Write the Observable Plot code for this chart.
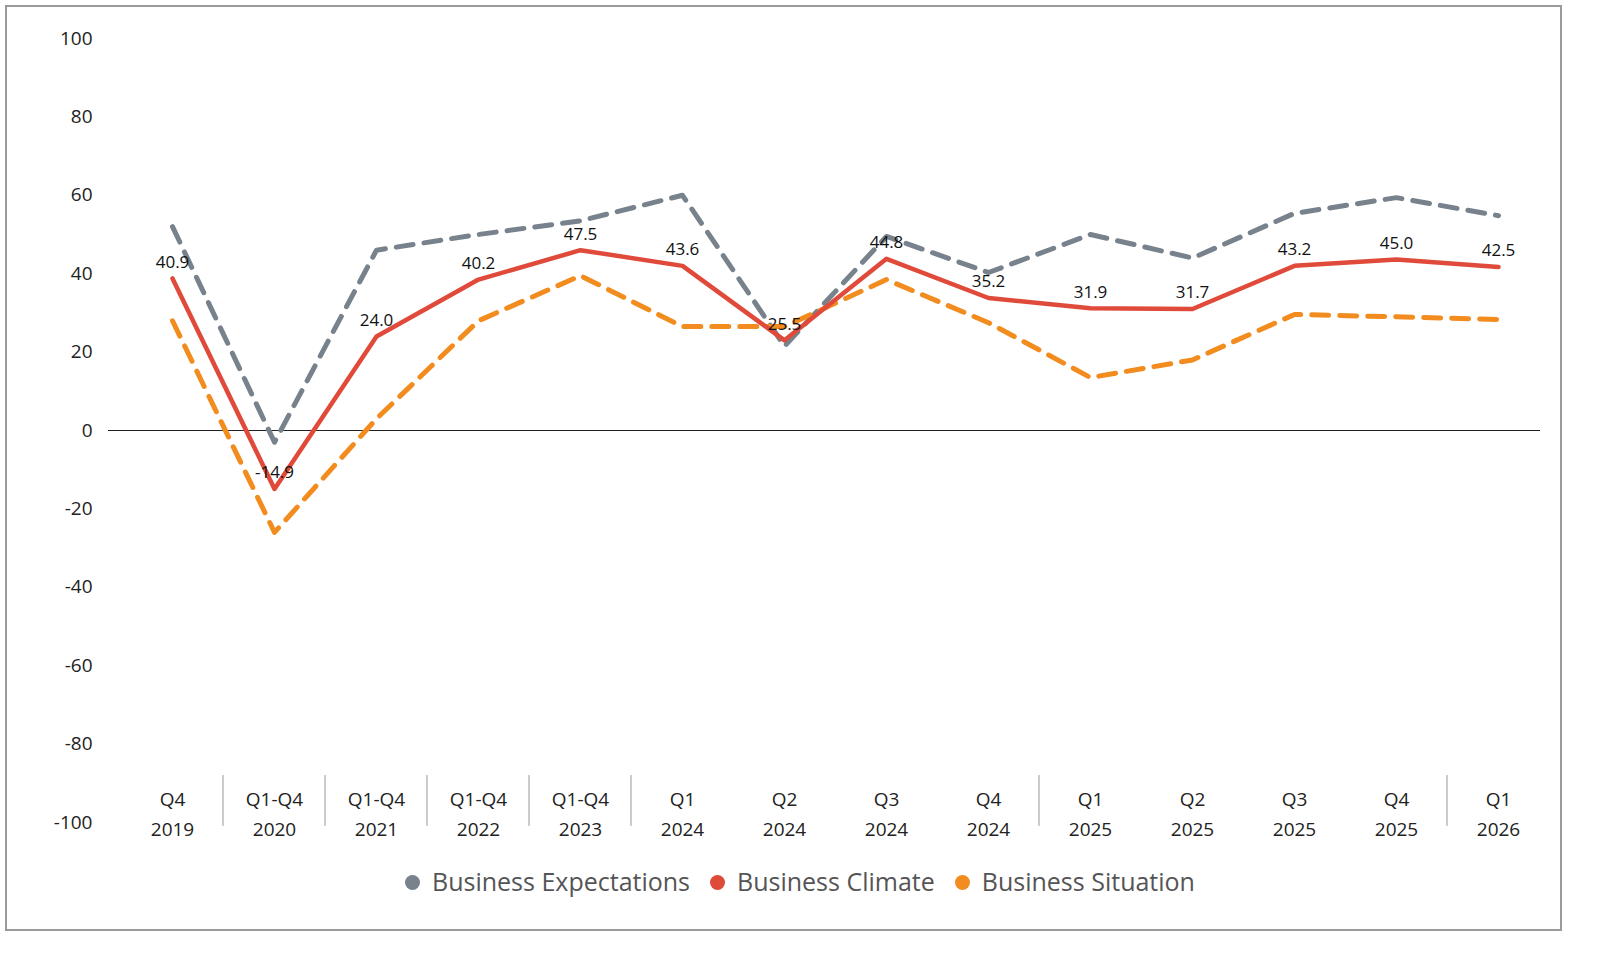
<!DOCTYPE html>
<html><head><meta charset="utf-8">
<script src="https://cdn.jsdelivr.net/npm/d3@7"></script>
<script src="https://cdn.jsdelivr.net/npm/@observablehq/plot@0.6"></script>
<style>
body{margin:0;background:#fff;font-family:"Open Sans",sans-serif;}
#frame{position:absolute;left:5px;top:5px;width:1553px;height:922px;border:2px solid #9a9a9a;}
#chart{position:absolute;left:0;top:0;}
#legend{position:absolute;left:0;top:864px;width:1600px;text-align:center;font-size:25px;color:#555;}
#legend span{margin:0 10px;}
#legend i{display:inline-block;width:15px;height:15px;border-radius:50%;margin-right:12px;vertical-align:middle;position:relative;top:-2px;}
</style></head><body>
<div id="frame"></div><div id="chart"></div>
<div id="legend"></div>
<script>
const periods = ["Q4\n2019","Q1-Q4\n2020","Q1-Q4\n2021","Q1-Q4\n2022","Q1-Q4\n2023","Q1\n2024","Q2\n2024","Q3\n2024","Q4\n2024","Q1\n2025","Q2\n2025","Q3\n2025","Q4\n2025","Q1\n2026"];
const expectations = [52,-3,46,50,53.5,60,21.5,49.5,40.3,50,44,55.4,59.4,54.8];
const climate = [40.9,-14.9,24.0,40.2,47.5,43.6,25.5,44.8,35.2,31.9,31.7,43.2,45.0,42.5];
const climateLine = [38.8,-14.9,24.0,38.5,46,42,23,43.8,33.8,31.2,31,42,43.6,41.7];
const situation = [28,-26,3,28,39.5,26.5,26.5,38.5,27.5,13.5,18,29.6,29,28.3];
const separatorsAfter = ["Q1-Q4\n2020","Q1-Q4\n2021","Q1-Q4\n2022","Q1-Q4\n2023","Q1\n2024","Q1\n2025","Q1\n2026"];
const yTicks = [-100,-80,-60,-40,-20,0,20,40,60,80,100];
const seriesNames = ["Business Expectations","Business Climate","Business Situation"];
const colors = ["#77828c","#e04a3a","#f28c1e"];

const rows = (vals) => periods.map((p,i)=>({p, v: vals[i]}));
const clim = periods.map((p,i)=>({p, v: climateLine[i], lab: climate[i].toFixed(1)}));

const chart = Plot.plot({
  width:1600, height:850, marginTop:38, marginBottom:28, marginLeft:166, marginRight:97,
  style:{fontFamily:"Open Sans", fontSize:"19px", color:"#222"},
  x:{type:"point", domain:periods, padding:0, label:null},
  y:{domain:[-100,100], label:null},
  marks:[
    Plot.axisY({ticks:yTicks, tickFormat:d=>String(d), tickSize:0, tickPadding:74, fontSize:19}),
    Plot.axisX({tickSize:0, fontSize:19, dy:-47, lineHeight:1.6}),
    Plot.ruleY([0],{stroke:"#222", strokeWidth:1.2, insetLeft:-58, insetRight:-37}),
    Plot.ruleX(separatorsAfter,{dx:-51.5, y1:-88, y2:-101, stroke:"#999"}),
    Plot.line(rows(expectations),{x:"p",y:"v",stroke:colors[0],strokeWidth:5,strokeDasharray:"17,11"}),
    Plot.line(rows(situation),{x:"p",y:"v",stroke:colors[2],strokeWidth:5,strokeDasharray:"17,11"}),
    Plot.line(clim,{x:"p",y:"v",stroke:colors[1],strokeWidth:4.5}),
    Plot.text(clim,{x:"p",y:"v",text:"lab",dy:-16,fontSize:17,fill:"#111"})
  ]
});
document.getElementById("chart").append(chart);
document.getElementById("legend").innerHTML = seriesNames.map((n,i)=>`<span><i style="background:${colors[i]}"></i>${n}</span>`).join("");
</script></body></html>
